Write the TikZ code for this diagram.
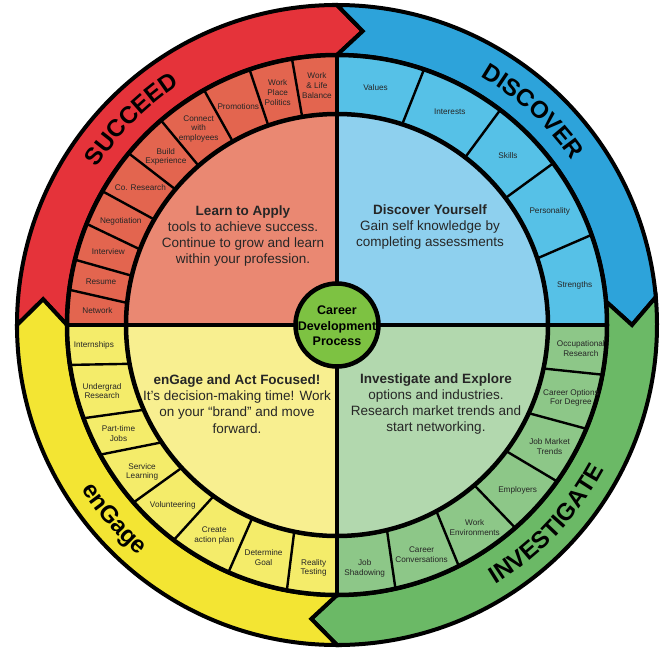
\documentclass[tikz,border=0pt]{standalone}
\usepackage{fontspec}
\setmainfont{Liberation Sans}
\usetikzlibrary{decorations.text}
\definecolor{bandred}{HTML}{E5333A}
\definecolor{bandblue}{HTML}{2DA3DA}
\definecolor{bandgreen}{HTML}{6BB966}
\definecolor{bandyellow}{HTML}{F3E533}
\definecolor{segred}{HTML}{E3654F}
\definecolor{segblue}{HTML}{56C1E7}
\definecolor{seggreen}{HTML}{8DC788}
\definecolor{segyellow}{HTML}{F4EC6A}
\definecolor{innerred}{HTML}{EA8872}
\definecolor{innerblue}{HTML}{8ED0EE}
\definecolor{innergreen}{HTML}{B2D8AE}
\definecolor{inneryellow}{HTML}{F8EF90}
\definecolor{hubgreen}{HTML}{7DC242}

\begin{document}
\begin{tikzpicture}[x=1pt, y=1pt,
    band/.style={draw=black, line width=4pt, line join=miter},
    rim/.style={draw=black, line width=4.5pt},
    cut/.style={draw=black, line width=2.4pt},
    seg/.style={font=\fontsize{8.2}{9.8}\selectfont, align=center, text=black!85, inner sep=0pt},
    blurb/.style={font=\fontsize{13.5}{16.2}\selectfont, align=center, text=black!85, inner sep=0pt},
    arctext/.style={decorate, decoration={text along path, text align=center,
        text={|\fontsize{24}{24}\selectfont\bfseries|#1}}}]

  \useasboundingbox (-337,-326) rectangle (331,325);

  % --- outer arrow band, one arrow per stage -----------------------------------
  \filldraw[band, fill=bandred] (180:320) arc[start angle=180, end angle=90, radius=320]
    -- (85:295) -- (90:270) arc[start angle=90, end angle=180, radius=270] -- (175:295) -- cycle;
  \filldraw[band, fill=bandblue] (90:320) arc[start angle=90, end angle=5, radius=320]
    -- (0:295) -- (5:270) arc[start angle=5, end angle=90, radius=270] -- (85:295) -- cycle;
  \filldraw[band, fill=bandgreen] (5:320) arc[start angle=5, end angle=-90, radius=320]
    -- (-95:295) -- (-90:270) arc[start angle=-90, end angle=5, radius=270] -- (0:295) -- cycle;
  \filldraw[band, fill=bandyellow] (-90:320) arc[start angle=-90, end angle=-180, radius=320]
    -- (-185:295) -- (-180:270) arc[start angle=-180, end angle=-90, radius=270] -- (-95:295) -- cycle;

  % --- quadrants: step ring and inner field -------------------------------------
  \fill[segred] (0,0) -- (180:270) arc[start angle=180, end angle=90, radius=270] -- cycle;
  \fill[segblue] (0,0) -- (90:270) arc[start angle=90, end angle=0, radius=270] -- cycle;
  \fill[seggreen] (0,0) -- (0:270) arc[start angle=0, end angle=-90, radius=270] -- cycle;
  \fill[segyellow] (0,0) -- (-90:270) arc[start angle=-90, end angle=-180, radius=270] -- cycle;
  \fill[innerred] (0,0) -- (180:211) arc[start angle=180, end angle=90, radius=211] -- cycle;
  \fill[innerblue] (0,0) -- (90:211) arc[start angle=90, end angle=0, radius=211] -- cycle;
  \fill[innergreen] (0,0) -- (0:211) arc[start angle=0, end angle=-90, radius=211] -- cycle;
  \fill[inneryellow] (0,0) -- (-90:211) arc[start angle=-90, end angle=-180, radius=211] -- cycle;

  % --- step dividers --------------------------------------------------------------
  \draw[cut] (174:211) -- (172.5:270) (166.5:211) -- (166:270) (159:211) -- (158:270)
    (150:211) -- (150.3:270) (140:211) -- (140.5:270) (131:211) -- (130.7:270)
    (119.6:211) -- (119.5:270) (109:211) -- (108.9:270) (99.5:211) -- (99.6:270);
  \draw[cut] (72:211) -- (71.2:270) (52.6:211) -- (52.8:270) (37:211) -- (36.8:270)
    (18.4:211) -- (19.5:270);
  \draw[cut] (-11.9:211) -- (-10.6:270) (-24.7:211) -- (-22.6:270) (-36.7:211) -- (-35.4:270)
    (-49.4:211) -- (-48.7:270) (-61.9:211) -- (-63.2:270) (-76.3:211) -- (-77.5:270);
  \draw[cut] (-101.7:211) -- (-100.7:270) (-113.7:211) -- (-113.7:270) (-125.8:211) -- (-127.2:270)
    (-137.4:211) -- (-138.9:270) (-146.2:211) -- (-151.3:270) (-156.3:211) -- (-159.8:270)
    (-169.4:211) -- (-171.5:270);

  % --- rims and quadrant borders ------------------------------------------------
  \draw[rim] (0,0) circle[radius=211];
  \draw[rim] (0,0) circle[radius=270];
  \draw[rim] (-270,0) -- (270,0) (0,-270) -- (0,270);

  % --- hub ------------------------------------------------------------------------
  \filldraw[rim, fill=hubgreen] (0,0) circle[radius=41.5];
  \node[font=\bfseries\fontsize{12.5}{15.5}\selectfont, align=center, inner sep=0pt] (hub) at (0,-1)
    {Career\\Development\\Process};

  % --- stage titles on the arrows -------------------------------------------------
  \path[arctext=SUCCEED] (180:287) arc[start angle=180, end angle=90, radius=287];
  \path[arctext=DISCOVER] (90:287) arc[start angle=90, end angle=5, radius=287];
  \path[arctext=INVESTIGATE] (-90:304) arc[start angle=-90, end angle=3, radius=304];
  \path[arctext=enGage] (-185:304) arc[start angle=-185, end angle=-93, radius=304];

  % --- stage summaries ------------------------------------------------------------
  \node[blurb] (apply) at (-94,89) {\textbf{Learn to Apply}\\tools to achieve success.\\Continue to grow and learn\\within your profession.};
  \node[blurb] (yourself) at (93,98) {\textbf{Discover Yourself}\\Gain self knowledge by\\completing assessments};
  \node[blurb] (explore) at (99,-79) {\textbf{Investigate and Explore}\\options and industries.\\Research market trends and\\start networking.};
  \node[blurb] (focused) at (-100,-79) {\textbf{enGage and Act Focused!}\\It’s decision-making time! Work\\on your “brand” and move\\forward.};

  % --- steps: succeed -------------------------------------------------------------
  \node[seg] (network) at (176.5:240) {Network};
  \node[seg] (resume) at (169.5:240) {Resume};
  \node[seg] (interview) at (162.3:240) {Interview};
  \node[seg] (negotiation) at (154.3:240) {Negotiation};
  \node[seg] (coresearch) at (145:240) {Co. Research};
  \node[seg] (buildexp) at (135.5:240) {Build\\Experience};
  \node[seg] (connect) at (125.2:240) {Connect\\with\\employees};
  \node[seg] (promotions) at (114.3:240) {Promotions};
  \node[seg] (politics) at (104.3:240) {Work\\Place\\Politics};
  \node[seg] (balance) at (94.8:240) {Work\\\& Life\\Balance};

  % --- steps: discover ------------------------------------------------------------
  \node[seg] (values) at (80.8:241) {Values};
  \node[seg] (interests) at (62.1:241) {Interests};
  \node[seg] (skills) at (44.8:241) {Skills};
  \node[seg] (personality) at (28:241) {Personality};
  \node[seg] (strengths) at (9.5:241) {Strengths};

  % --- steps: investigate ---------------------------------------------------------
  \node[seg] (occupational) at (-5.5:245) {Occupational\\Research};
  \node[seg] (options) at (-17.3:245) {Career Options\\For Degree};
  \node[seg] (market) at (-29.8:245) {Job Market\\Trends};
  \node[seg] (employers) at (-42.5:245) {Employers};
  \node[seg] (environments) at (-55.8:245) {Work\\Environments};
  \node[seg] (conversations) at (-69.8:245) {Career\\Conversations};
  \node[seg] (shadowing) at (-83.5:245) {Job\\Shadowing};

  % --- steps: engage --------------------------------------------------------------
  \node[seg] (reality) at (-95.5:244) {Reality\\Testing};
  \node[seg] (goal) at (-107.5:244) {Determine\\Goal};
  \node[seg] (actionplan) at (-120.2:244) {Create\\action plan};
  \node[seg] (volunteering) at (-132.3:244) {Volunteering};
  \node[seg] (service) at (-143:244) {Service\\Learning};
  \node[seg] (parttime) at (-153.6:244) {Part-time\\Jobs};
  \node[seg] (undergrad) at (-164.3:244) {Undergrad\\Research};
  \node[seg] (internships) at (-175.3:244) {Internships};

\end{tikzpicture}
\end{document}
